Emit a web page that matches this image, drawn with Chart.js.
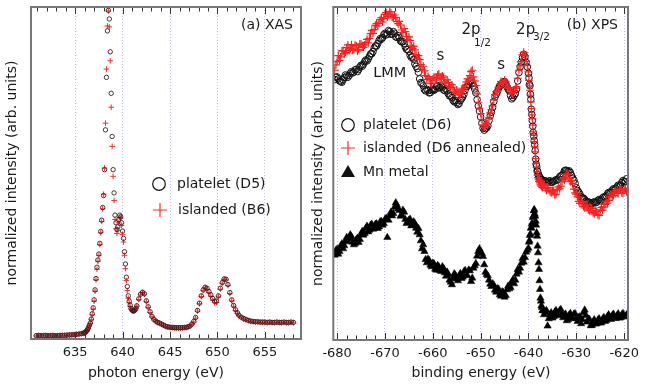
<!DOCTYPE html>
<html>
<head>
<meta charset="utf-8">
<title>XAS / XPS</title>
<script src="https://cdn.jsdelivr.net/npm/chart.js@4.4.1/dist/chart.umd.min.js"></script>
<style>
  body { margin: 0; background: #fff; }
  #page { position: relative; width: 645px; height: 385px; overflow: hidden; }
  canvas { position: absolute; top: 0; }
</style>
</head>
<body>
<div id="page">
  <canvas id="xasChart" width="320" height="385" style="left:0"></canvas>
  <canvas id="xpsChart" width="340" height="385" style="left:305px"></canvas>
</div>
<script>
// ---- (a) XAS data: photon energy (eV) vs normalized intensity ----
const xasEnergy = [
  630.9, 631.15, 631.4, 631.65, 631.9, 632.15, 632.4, 632.65, 632.9, 633.15, 633.4,
  633.65, 633.9, 634.15, 634.4, 634.65, 634.9, 635.15, 635.4, 635.65, 635.9,
  636.0, 636.1, 636.2, 636.3, 636.4, 636.5, 636.6, 636.7, 636.8, 636.9,
  637.0, 637.1, 637.2, 637.3, 637.4, 637.5, 637.6, 637.7, 637.8, 637.9,
  638.0, 638.1, 638.2, 638.3, 638.4, 638.5, 638.6, 638.7, 638.8, 638.9,
  639.0, 639.1, 639.2, 639.3, 639.4, 639.5, 639.6, 639.7, 639.8, 639.9,
  640.0, 640.1, 640.2, 640.3, 640.4, 640.5, 640.6, 640.7, 640.8, 640.9,
  641.0, 641.1, 641.2, 641.3, 641.4, 641.5,
  641.7, 641.9, 642.1, 642.3, 642.5, 642.7, 642.9, 643.1, 643.3, 643.5,
  643.7, 643.9, 644.1, 644.3, 644.5, 644.7, 644.9, 645.1, 645.3, 645.5,
  645.7, 645.9, 646.1, 646.3, 646.5, 646.7, 646.9, 647.1, 647.3, 647.5,
  647.7, 647.9, 648.1, 648.3, 648.5, 648.7, 648.9, 649.1, 649.3, 649.5,
  649.7, 649.9, 650.1, 650.3, 650.5, 650.7, 650.9, 651.1, 651.3, 651.5,
  651.7, 651.9, 652.1,
  652.25, 652.5, 652.75, 653.0, 653.25, 653.5, 653.75, 654.0, 654.25, 654.5,
  654.75, 655.0, 655.25, 655.5, 655.75, 656.0, 656.25, 656.5, 656.75, 657.0,
  657.25, 657.5, 657.75, 658.0
];
const xasPlatelet = [
  1.0, 1.1, 1.0, 1.0, 1.1, 1.0, 1.0, 1.1, 1.0, 1.0, 1.1,
  1.1, 1.1, 1.2, 1.2, 1.3, 1.3, 1.4, 1.5, 1.6, 1.8,
  1.9, 2.1, 2.4, 2.8, 3.4, 4.1, 4.8, 6.0, 7.6, 9.4,
  11.8, 14.8, 18.2, 21.6, 23.8, 25.6, 28.8, 32.4, 35.8, 39.6,
  43.2, 51, 63, 78.8, 92.8, 99, 96.4, 86.5, 74, 61,
  51, 44, 37.3, 35, 33, 33.8, 36, 37.3, 36.8, 35,
  32.5, 30.3, 26.3, 22.6, 18.6, 15.8, 13, 11.4, 10.2, 9.2,
  8.7, 8.5, 8.5, 8.7, 9.2, 10,
  12.1, 13.5, 14.1, 13.6, 11.5, 9.7, 8.2, 6.8, 5.9, 5.4,
  5.0, 4.8, 4.5, 4.2, 3.9, 3.7, 3.6, 3.5, 3.5, 3.4,
  3.4, 3.4, 3.4, 3.4, 3.5, 3.5, 3.7, 3.9, 4.5, 5.3,
  6.5, 8.6, 10.8, 13.0, 14.8, 15.6, 15.3, 14.3, 13.3, 12.2,
  11.4, 11.4, 13.0, 15.3, 17.0, 18.1, 18.0, 16.4, 14.0, 11.8,
  10.1, 8.8, 7.9,
  7.2, 6.6, 6.2, 5.9, 5.6, 5.4, 5.3, 5.2, 5.2, 5.1,
  5.1, 5.1, 5.0, 5.1, 5.0, 5.0, 5.1, 5.0, 5.0, 5.1,
  5.0, 5.0, 5.1, 5.0
];
const xasIslanded = [
  0.9, 1.0, 1.0, 1.0, 1.0, 1.0, 1.0, 1.0, 1.0, 1.0, 1.0,
  1.1, 1.1, 1.1, 1.2, 1.2, 1.3, 1.4, 1.5, 1.6, 1.7,
  1.8, 2.0, 2.3, 2.7, 3.3, 4.0, 4.7, 5.8, 7.3, 9.0,
  11.4, 14.4, 17.8, 21.0, 23.4, 25.2, 28.4, 32.0, 35.4, 39.2,
  43.6, 51.5, 65, 81.3, 94.3, 98.8, 94, 83.8, 69.8, 58,
  49, 41.7, 36, 33.2, 31.8, 32.6, 35, 36.6, 36.4, 34.2,
  31.5, 29.2, 25.2, 21.2, 17.6, 14.6, 12.3, 10.9, 9.8, 9.0,
  8.5, 8.4, 8.4, 8.6, 9.1, 9.9,
  11.9, 13.3, 14.0, 13.5, 11.2, 9.5, 8.0, 6.7, 5.8, 5.3,
  4.9, 4.7, 4.4, 4.1, 3.8, 3.6, 3.5, 3.4, 3.4, 3.3,
  3.3, 3.3, 3.3, 3.3, 3.4, 3.4, 3.6, 3.8, 4.4, 5.1,
  6.3, 8.4, 10.6, 12.8, 14.6, 15.4, 15.0, 14.0, 12.9, 11.7,
  10.9, 11.0, 12.7, 15.0, 16.8, 17.9, 17.8, 16.1, 13.7, 11.5,
  9.9, 8.6, 7.7,
  7.0, 6.4, 6.0, 5.7, 5.5, 5.3, 5.2, 5.1, 5.1, 5.0,
  5.0, 5.0, 4.9, 5.0, 4.9, 4.9, 5.0, 4.9, 4.9, 5.0,
  4.9, 4.9, 5.0, 4.9
];
const xasTicks = [635, 640, 645, 650, 655];

// ---- (b) XPS data: binding energy (eV) vs normalized intensity ----
// main scan
const xpsEnergy = [
  -680.5, -680, -679.5, -679, -678.5, -678, -677.5, -677, -676.5, -676,
  -675.5, -675, -674.5, -674, -673.5, -673, -672.5, -672, -671.5, -671,
  -670.5, -670, -669.5, -669, -668.5, -668, -667.5, -667, -666.5, -666,
  -665.5, -665, -664.5, -664, -663.5, -663, -662.5, -662, -661.5, -661,
  -660.5, -660, -659.5, -659, -658.5, -658, -657.5, -657, -656.5, -656,
  -655.5, -655, -654.5, -654, -653.5, -653, -652.5, -652, -651.5, -651,
  -650.5, -650, -649.5, -649, -648.5, -648, -647.5, -647, -646.5, -646,
  -645.5, -645, -644.5, -644, -643.5, -643, -642.5, -642, -641.5, -641,
  -640.5,
  -640, -639.9, -639.8, -639.7, -639.6, -639.5, -639.4, -639.3, -639.2, -639.1,
  -639, -638.9, -638.8, -638.7, -638.6, -638.5, -638.4, -638.3, -638.2, -638.1,
  -638, -637.9, -637.8, -637.7, -637.6, -637.5, -637.4, -637.3, -637.2, -637.1,
  -637,
  -636.5, -636, -635.5, -635, -634.5, -634, -633.5, -633, -632.5, -632,
  -631.5, -631, -630.5, -630, -629.5, -629, -628.5, -628, -627.5, -627,
  -626.5, -626, -625.5, -625, -624.5, -624, -623.5, -623, -622.5, -622,
  -621.5, -621, -620.5, -620, -619.5
];
const xpsPlatelet = [
  78.2, 79.0, 77.8, 77.4, 78.8, 79.3, 79.4, 80.6, 80.5, 81.3,
  81.2, 82.5, 82.8, 84.1, 84.4, 85.9, 86.6, 88.3, 89.0, 90.5,
  90.8, 92.1, 91.9, 92.6, 91.9, 92.1, 90.9, 90.8, 89.5, 89.0,
  87.3, 86.7, 84.9, 84.3, 82.2, 80.4, 77.3, 76.3, 74.8, 74.9,
  74.3, 75.2, 75.3, 76.4, 75.8, 75.9, 74.9, 74.8, 73.3, 72.8,
  71.5, 71.3, 71.0, 72.4, 73.8, 76.0, 76.8, 77.8, 76.3, 74.2,
  70.3, 67.0, 63.6, 63.5, 64.3, 67.3, 69.8, 73.0, 74.6, 76.3,
  77.0, 77.6, 76.0, 74.8, 72.4, 73.4, 75.3, 80.3, 83.4, 85.8,
  83.4,
  80.1, 78.7, 76.8, 76.3, 73.8, 72.3, 69.3, 67.7, 65.9, 64.2,
  62.3, 61.2, 59.9, 58.7, 56.9, 54.3, 52.8, 52.2, 50.9, 50.7,
  49.8, 49.7, 48.9, 49.0, 48.4, 48.6, 48.0, 48.2, 47.7, 48.0,
  47.6,
  47.8, 47.4, 47.8, 47.4, 47.9, 48.0, 49.0, 49.4, 50.8, 50.9,
  50.8, 49.4, 48.0, 45.7, 44.4, 43.0, 42.6, 41.6, 41.5, 40.9,
  41.3, 41.2, 41.9, 41.8, 42.7, 42.9, 43.9, 44.1, 45.0, 45.1,
  46.0, 46.1, 47.3, 47.6, 48.4
];
const xpsIslanded = [
  81.0, 83.6, 84.0, 86.8, 85.9, 87.8, 87.0, 88.7, 87.2, 88.3,
  87.2, 88.8, 87.9, 89.4, 89.2, 92.0, 92.1, 94.5, 94.3, 96.2,
  95.5, 97.8, 97.1, 98.6, 97.0, 97.6, 95.6, 95.7, 93.1, 93.5,
  91.1, 91.0, 88.3, 88.2, 85.7, 85.4, 82.7, 82.2, 79.4, 79.1,
  77.1, 78.4, 78.0, 79.6, 78.6, 79.3, 77.7, 78.1, 76.2, 76.6,
  74.7, 75.1, 73.6, 75.0, 75.3, 77.5, 78.0, 80.6, 79.0, 76.4,
  71.4, 68.0, 64.5, 64.5, 65.0, 68.2, 70.3, 73.7, 74.9, 76.8,
  77.0, 78.0, 76.4, 75.8, 74.1, 75.0, 76.0, 81.0, 83.6, 86.4,
  83.7,
  80.5, 78.0, 76.5, 75.0, 73.5, 71.5, 69.5, 67.6, 66.5, 64.5,
  62.5, 61.5, 59.5, 58.0, 56.5, 54.5, 53.0, 51.8, 50.5, 49.5,
  48.8, 48.3, 47.6, 48.0, 47.2, 46.6, 47.5, 46.2, 46.8, 45.8,
  46.4,
  45.6, 45.8, 44.6, 44.9, 43.6, 45.2, 45.4, 47.6, 48.1, 49.9,
  48.4, 47.9, 45.3, 43.8, 41.6, 41.6, 40.1, 40.6, 39.1, 39.7,
  38.3, 38.7, 37.6, 39.1, 39.0, 40.7, 41.1, 43.2, 43.0, 44.4,
  44.2, 45.1, 44.2, 45.0, 44.6
];
const xpsMnMetal = [
  25.5, 27.3, 26.6, 28.9, 28.3, 30.8, 30.4, 31.0, 28.6, 30.1,
  29.3, 31.8, 31.5, 33.6, 32.5, 34.5, 33.3, 34.8, 33.5, 35.5,
  34.5, 36.2, 30.8, 37.5, 37.3, 39.9, 40.5, 38.9, 37.6, 38.4,
  35.0, 36.0, 34.3, 35.5, 33.6, 33.5, 29.8, 28.6, 24.2, 24.3,
  22.5, 23.1, 21.3, 22.4, 20.9, 22.0, 20.2, 20.4, 18.0, 16.6,
  19.9, 18.4, 19.2, 18.5, 20.5, 19.6, 21.0, 17.6, 21.6, 23.0,
  26.6, 26.5, 25.1, 20.4, 19.3, 16.8, 16.9, 15.0, 15.4, 13.6,
  14.5, 12.9, 15.1, 15.4, 17.4, 16.9, 19.8, 20.4, 23.1, 23.4,
  26.4,
  27.6, 29.4, 29.8, 31.4, 31.8, 33.6, 33.7, 35.0, 34.8, 36.8,
  37.2, 38.8, 39.2, 37.8, 37.2, 35.7, 34.5, 32.2, 31.2, 28.2,
  26.2, 23.2, 21.2, 17.8, 15.2, 12.6, 11.7, 10.3, 9.8, 8.8,
  8.9,
  8.4, 4.2, 7.6, 6.6, 8.4, 7.6, 8.8, 7.9, 7.4, 5.8,
  7.5, 6.9, 7.8, 6.5, 6.8, 4.9, 8.2, 7.4, 6.3, 4.3,
  5.4, 4.8, 6.0, 5.1, 6.3, 5.6, 7.1, 6.5, 7.4, 6.6,
  7.3, 6.6, 7.6, 7.0, 7.6
];
// in-between points of the XPS scan
const xpsEnergyB = [
  -680.25, -679.75, -679.25, -678.75, -678.25, -677.75, -677.25, -676.75, -676.25, -675.75,
  -675.25, -674.75, -674.25, -673.75, -673.25, -672.75, -672.25, -671.75, -671.25, -670.75,
  -670.25, -669.75, -669.25, -668.75, -668.25, -667.75, -667.25, -666.75, -666.25, -665.75,
  -665.25, -664.75, -664.25, -663.75, -663.25, -662.75, -662.25, -661.75, -661.25, -660.75,
  -660.25, -659.75, -659.25, -658.75, -658.25, -657.75, -657.25, -656.75, -656.25, -655.75,
  -655.25, -654.75, -654.25, -653.75, -653.25, -652.75, -652.25, -651.75, -651.25, -650.75,
  -650.25, -649.75, -649.25, -648.75, -648.25, -647.75, -647.25, -646.75, -646.25, -645.75,
  -645.25, -644.75, -644.25, -643.75, -643.25, -642.75, -642.25, -641.75, -641.25, -640.75,
  -640.25,
  -636.75, -636.25, -635.75, -635.25, -634.75, -634.25, -633.75, -633.25, -632.75, -632.25,
  -631.75, -631.25, -630.75, -630.25, -629.75, -629.25, -628.75, -628.25, -627.75, -627.25,
  -626.75, -626.25, -625.75, -625.25, -624.75, -624.25, -623.75, -623.25, -622.75, -622.25,
  -621.75, -621.25, -620.75, -620.25, -619.75
];
const xpsPlateletB = [
  78.9, 78.4, 77.6, 78.1, 79.6, 78.9, 80.1, 80.2, 81.1, 80.6,
  82.0, 82.2, 83.6, 83.8, 85.2, 86.0, 87.7, 88.3, 89.9, 90.3,
  91.7, 91.6, 92.9, 91.8, 92.6, 91.0, 91.4, 89.8, 89.6, 88.0,
  87.2, 85.5, 85.0, 82.9, 81.5, 78.4, 77.0, 75.2, 75.3, 74.2,
  74.9, 75.0, 76.1, 75.7, 76.3, 75.1, 75.4, 73.9, 73.4, 71.9,
  71.9, 70.7, 71.9, 73.0, 75.0, 76.2, 77.5, 77.0, 75.4, 72.2,
  68.8, 65.1, 63.0, 63.7, 65.9, 68.4, 71.6, 73.8, 75.6, 76.6,
  77.5, 76.9, 75.3, 73.4, 72.8, 74.0, 77.8, 82.0, 84.8, 85.0,
  82.0,
  47.9, 47.4, 47.7, 47.3, 47.6, 48.1, 48.3, 49.3, 49.9, 51.0,
  50.6, 50.3, 48.6, 47.0, 44.9, 43.8, 42.6, 42.2, 41.4, 41.3,
  40.9, 41.5, 41.4, 42.2, 42.1, 43.0, 43.3, 44.3, 44.4, 45.4,
  45.5, 46.5, 46.6, 47.9, 47.5
];
const xpsIslandedB = [
  82.6, 85.4, 85.0, 86.9, 86.4, 88.6, 87.5, 87.1, 88.5, 86.8,
  88.9, 88.0, 88.6, 90.3, 90.6, 93.0, 93.2, 95.0, 95.1, 96.8,
  96.6, 98.3, 97.7, 98.2, 96.7, 96.9, 95.0, 94.6, 92.4, 92.6,
  90.2, 89.9, 87.6, 87.1, 84.6, 84.2, 81.3, 80.8, 78.2, 78.5,
  77.0, 78.9, 78.6, 79.9, 78.3, 78.9, 77.2, 77.3, 75.7, 75.9,
  74.2, 74.5, 73.8, 75.6, 76.3, 78.4, 79.4, 81.0, 77.8, 73.9,
  69.6, 66.2, 63.9, 64.9, 66.7, 69.2, 72.1, 74.6, 75.8, 77.6,
  77.2, 77.5, 75.6, 74.9, 74.2, 75.6, 78.6, 82.3, 85.6, 85.4,
  82.4,
  46.9, 45.0, 45.7, 44.2, 44.8, 43.8, 46.0, 46.2, 48.4, 48.8,
  49.7, 47.6, 46.9, 44.2, 43.0, 41.0, 41.2, 39.7, 40.5, 38.8,
  39.5, 37.9, 38.6, 37.4, 39.8, 39.9, 41.6, 41.9, 43.8, 43.4,
  44.9, 44.0, 45.3, 44.1, 45.4
];
const xpsMnMetalB = [
  26.9, 25.8, 28.2, 27.4, 29.8, 29.5, 31.6, 29.4, 29.0, 30.6,
  30.2, 32.6, 32.0, 34.2, 33.0, 34.8, 33.6, 34.9, 34.0, 35.6,
  35.0, 36.6, 36.0, 38.4, 38.0, 41.2, 39.4, 37.2, 39.0, 36.2,
  35.5, 36.3, 34.6, 35.0, 32.4, 31.6, 27.4, 26.6, 23.2, 23.9,
  22.0, 22.9, 21.0, 22.0, 20.6, 21.5, 19.2, 19.6, 17.4, 18.6,
  19.4, 17.8, 20.0, 18.9, 20.9, 19.3, 20.8, 18.6, 22.3, 25.2,
  27.4, 26.0, 22.6, 19.7, 18.0, 16.1, 16.5, 14.4, 15.3, 13.2,
  14.3, 13.4, 16.2, 15.8, 18.1, 18.0, 21.2, 21.6, 24.5, 24.8,
  27.0,
  7.6, 8.9, 6.4, 8.2, 7.0, 8.9, 7.3, 9.2, 6.7, 7.8,
  6.1, 8.0, 6.4, 7.9, 5.6, 7.0, 6.1, 9.0, 5.4, 6.2,
  4.4, 6.1, 4.9, 6.4, 5.2, 6.8, 5.9, 7.6, 6.2, 7.8,
  6.5, 7.9, 6.7, 8.0, 7.0
];
const xpsTicks = [-680, -670, -660, -650, -640, -630, -620];

Chart.defaults.font.family = '"DejaVu Sans", Verdana, sans-serif';
Chart.defaults.color = '#1a1a1a';

function toPoints(xs, ys) {
  return xs.map((x, i) => ({ x: x, y: ys[i] }));
}

function xAxis(min, max, ticks, height) {
  return {
    type: 'linear',
    min: min,
    max: max,
    afterBuildTicks: s => { s.ticks = ticks.map(v => ({ value: v })); },
    afterFit: s => { s.height = height; },
    ticks: { padding: 6, autoSkip: false, maxRotation: 0, font: { size: 13 }, callback: v => String(v) },
    grid: { display: true, drawTicks: false, color: '#c2c2ee', lineWidth: 1 },
    border: { display: false, dash: [1, 2] }
  };
}

function yAxis(width) {
  return {
    type: 'linear',
    min: 0,
    max: 100,
    afterFit: s => { s.width = width; },
    ticks: { display: false },
    grid: { display: false, drawTicks: false },
    border: { display: false },
    title: { display: true, text: 'normalized intensity (arb. units)', font: { size: 14 }, padding: { top: 4, bottom: 0 } }
  };
}

// frame, inward tick marks, x title, notes and legend
function decor(conf) {
  return {
    id: 'decor',
    afterDraw(chart) {
      const { ctx, chartArea: a, scales: { x, y } } = chart;
      ctx.save();

      ctx.strokeStyle = '#333';
      ctx.lineWidth = 1;
      for (let v = conf.minorFrom; v <= conf.minorTo; v += conf.minorStep) {
        const major = conf.ticks.indexOf(v) >= 0;
        const len = major ? 7 : 4.5;
        const px = Math.round(x.getPixelForValue(v)) + 0.5;
        ctx.beginPath();
        ctx.moveTo(px, a.bottom); ctx.lineTo(px, a.bottom - len);
        ctx.moveTo(px, a.top); ctx.lineTo(px, a.top + len);
        ctx.stroke();
      }

      ctx.strokeStyle = '#777';
      ctx.lineWidth = 2;
      ctx.strokeRect(a.left, a.top, a.right - a.left, a.bottom - a.top);

      ctx.fillStyle = '#1a1a1a';
      ctx.font = '14px "DejaVu Sans"';
      ctx.textAlign = 'center';
      ctx.textBaseline = 'middle';
      ctx.fillText(conf.xTitle, conf.xTitleAt[0], conf.xTitleAt[1]);

      ctx.textAlign = 'right';
      ctx.fillText(conf.panel, a.right - conf.panelInset, a.top + 18);

      conf.notes.forEach(n => {
        ctx.font = n.size + 'px "DejaVu Sans"';
        ctx.textAlign = 'center';
        ctx.fillText(n.text, x.getPixelForValue(n.x), y.getPixelForValue(n.y));
      });

      ctx.font = '14px "DejaVu Sans"';
      conf.legend.forEach(item => {
        const [mx, my] = item.at;
        ctx.lineWidth = 1.2;
        if (item.kind === 'circle') {
          ctx.strokeStyle = '#111';
          ctx.beginPath(); ctx.arc(mx, my, 6.3, 0, Math.PI * 2); ctx.stroke();
        } else if (item.kind === 'cross') {
          ctx.strokeStyle = '#ff2a2a';
          ctx.beginPath();
          ctx.moveTo(mx - 7, my); ctx.lineTo(mx + 7, my);
          ctx.moveTo(mx, my - 7); ctx.lineTo(mx, my + 7);
          ctx.stroke();
        } else {
          ctx.fillStyle = '#111';
          ctx.beginPath();
          ctx.moveTo(mx, my - 7); ctx.lineTo(mx + 7, my + 5); ctx.lineTo(mx - 7, my + 5);
          ctx.closePath(); ctx.fill();
        }
        ctx.fillStyle = '#1a1a1a';
        ctx.textAlign = 'left';
        ctx.fillText(item.text, mx + conf.legendGap, my);
      });
      ctx.restore();
    }
  };
}

new Chart(document.getElementById('xasChart'), {
  type: 'scatter',
  data: {
    datasets: [
      {
        label: 'islanded (B6)',
        data: toPoints(xasEnergy, xasIslanded),
        pointStyle: 'cross', pointRadius: 2.8, pointBorderWidth: 1,
        pointBorderColor: '#ff2a2a', pointBackgroundColor: '#ff2a2a', borderColor: '#ff2a2a',
        order: 2
      },
      {
        label: 'platelet (D5)',
        data: toPoints(xasEnergy, xasPlatelet),
        pointStyle: 'circle', pointRadius: 2.2, pointBorderWidth: 0.9,
        pointBorderColor: '#3a1c1c', pointBackgroundColor: 'rgba(0,0,0,0)', borderColor: '#3a1c1c',
        order: 1
      }
    ]
  },
  options: {
    responsive: false,
    animation: false,
    events: [],
    layout: { padding: { left: 0, right: 19, top: 7, bottom: 0 } },
    scales: { x: xAxis(630.35, 658.8, xasTicks, 46), y: yAxis(31) },
    plugins: { legend: { display: false }, tooltip: { enabled: false } }
  },
  plugins: [decor({
    ticks: xasTicks, minorFrom: 631, minorTo: 658, minorStep: 1,
    xTitle: 'photon energy (eV)', xTitleAt: [156, 373],
    panel: '(a) XAS', panelInset: 8,
    notes: [],
    legendGap: 18,
    legend: [
      { kind: 'circle', at: [159, 184], text: 'platelet (D5)' },
      { kind: 'cross', at: [160, 210], text: 'islanded (B6)' }
    ]
  })]
});

new Chart(document.getElementById('xpsChart'), {
  type: 'scatter',
  data: {
    datasets: [
      {
        label: 'Mn metal',
        data: toPoints(xpsEnergy, xpsMnMetal).concat(toPoints(xpsEnergyB, xpsMnMetalB)),
        pointStyle: 'triangle', pointRadius: 4.2, pointBorderWidth: 0.5,
        pointBorderColor: '#000', pointBackgroundColor: '#000', borderColor: '#000',
        order: 3
      },
      {
        label: 'islanded (D6 annealed)',
        data: toPoints(xpsEnergy, xpsIslanded).concat(toPoints(xpsEnergyB, xpsIslandedB)),
        pointStyle: 'cross', pointRadius: 4, pointBorderWidth: 1.2,
        pointBorderColor: '#ff1e1e', pointBackgroundColor: '#ff1e1e', borderColor: '#ff1e1e',
        order: 1
      },
      {
        label: 'platelet (D6)',
        data: toPoints(xpsEnergy, xpsPlatelet).concat(toPoints(xpsEnergyB, xpsPlateletB)),
        pointStyle: 'circle', pointRadius: 3.3, pointBorderWidth: 1,
        pointBorderColor: '#111', pointBackgroundColor: 'rgba(0,0,0,0)', borderColor: '#111',
        order: 2
      }
    ]
  },
  options: {
    responsive: false,
    animation: false,
    events: [],
    layout: { padding: { left: 1, right: 5, top: 7, bottom: 0 } },
    scales: { x: xAxis(-680.8, -619.2, xpsTicks, 45), y: yAxis(27.3) },
    plugins: { legend: { display: false }, tooltip: { enabled: false } }
  },
  plugins: [decor({
    ticks: xpsTicks, minorFrom: -680, minorTo: -620, minorStep: 2,
    xTitle: 'binding energy (eV)', xTitleAt: [176, 373],
    panel: '(b) XPS', panelInset: 10,
    notes: [
      { text: 'LMM', x: -669.0, y: 80.2, size: 14.5 },
      { text: 's', x: -658.4, y: 85.3, size: 15 },
      { text: '2p', x: -652.0, y: 93.1, size: 15 },
      { text: '1/2', x: -649.6, y: 89.2, size: 10.5 },
      { text: 's', x: -645.7, y: 82.6, size: 15 },
      { text: '2p', x: -640.6, y: 93.1, size: 15 },
      { text: '3/2', x: -637.3, y: 90.8, size: 10.5 }
    ],
    legendGap: 15,
    legend: [
      { kind: 'circle', at: [43, 125], text: 'platelet (D6)' },
      { kind: 'cross', at: [43, 148], text: 'islanded (D6 annealed)' },
      { kind: 'triangle', at: [43, 172], text: 'Mn metal' }
    ]
  })]
});
</script>
</body>
</html>
